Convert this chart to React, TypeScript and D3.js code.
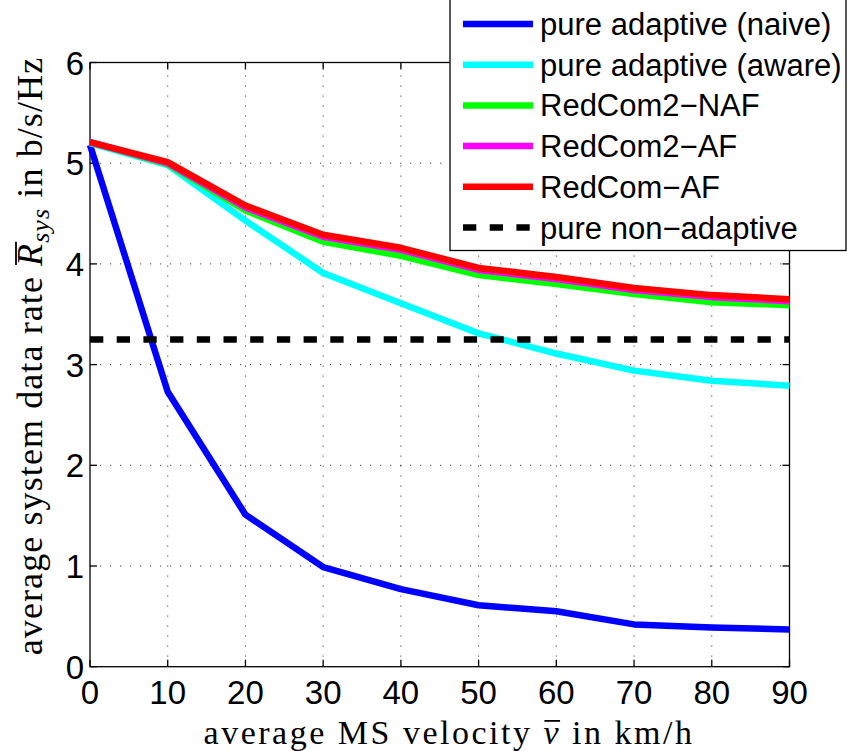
import React, { useLayoutEffect, useRef, useState } from "react";
import * as d3 from "d3";

const velocities = [0, 10, 20, 30, 40, 50, 60, 70, 80, 90];
const naive = [5.18, 2.73, 1.51, 0.99, 0.77, 0.61, 0.55, 0.42, 0.39, 0.37];
const aware = [5.2, 4.98, 4.43, 3.91, 3.61, 3.31, 3.11, 2.94, 2.84, 2.79];
const redCom2NAF = [5.21, 4.99, 4.53, 4.22, 4.08, 3.89, 3.8, 3.7, 3.62, 3.59];
const redCom2AF = [5.21, 5.0, 4.56, 4.27, 4.14, 3.94, 3.85, 3.74, 3.67, 3.63];
const redComAF = [5.21, 5.01, 4.58, 4.29, 4.16, 3.96, 3.87, 3.76, 3.69, 3.65];
const nonAdaptive = 3.25;

const xTicks = [0, 10, 20, 30, 40, 50, 60, 70, 80, 90];
const yTicks = [0, 1, 2, 3, 4, 5, 6];

const seriesNames = [
  "pure adaptive (naive)",
  "pure adaptive (aware)",
  "RedCom2\u2212NAF",
  "RedCom2\u2212AF",
  "RedCom\u2212AF",
  "pure non\u2212adaptive",
];
const seriesColors = ["#0000ff", "#00ffff", "#00ff00", "#ff00ff", "#ff0000", "#000000"];

const xLabelPre = "average MS velocity ";
const xLabelSym = "v";
const xLabelPost = " in km/h";
const yLabelPre = "average system data rate ";
const yLabelSym = "R";
const yLabelSub = "sys";
const yLabelPost = " in b/s/Hz";

const W = 847;
const H = 751;
const L = 90, R = 789.5, T = 62.5, B = 666.7;

type Bar = { x1: number; x2: number; y: number } | null;

export default function App() {
  const x = d3.scaleLinear().domain([0, 90]).range([L, R]);
  const y = d3.scaleLinear().domain([0, 6]).range([B, T]);
  const line = d3
    .line<number>()
    .x((_, i) => x(velocities[i]))
    .y((d) => y(d));

  const xLabRef = useRef<SVGTextElement>(null);
  const yLabRef = useRef<SVGTextElement>(null);
  const [xBar, setXBar] = useState<Bar>(null);
  const [yBar, setYBar] = useState<Bar>(null);

  useLayoutEffect(() => {
    const measure = (el: SVGTextElement | null, idx: number): Bar => {
      if (!el) return null;
      try {
        const e = el.getExtentOfChar(idx);
        return { x1: e.x + 1, x2: e.x + e.width + 1, y: e.y + e.height * 0.2 };
      } catch (err) {
        return null;
      }
    };
    setXBar(measure(xLabRef.current, xLabelPre.length));
    setYBar(measure(yLabRef.current, yLabelPre.length));
  }, []);

  const series = [naive, aware, redCom2NAF, redCom2AF, redComAF];
  const sans = "'Liberation Sans', Arial, Helvetica, sans-serif";
  const serif = "'Liberation Serif', 'Times New Roman', serif";
  const lw = 6.5;
  const tick = 7;

  const legX = 450, legR = 846, legT = 7, legB = 250.5;

  return (
    <svg
      width={W}
      height={H}
      style={{ position: "absolute", left: 0, top: 0, background: "#fff" }}
    >
      <rect x={0} y={0} width={W} height={H} fill="#fff" />
      {/* grid */}
      {xTicks.slice(1, -1).map((t) => (
        <line key={"gx" + t} x1={x(t)} x2={x(t)} y1={B} y2={T} stroke="#000" strokeWidth={1} strokeDasharray="1.2,8.8" strokeOpacity={0.75} />
      ))}
      {yTicks.slice(1, -1).map((t) => (
        <line key={"gy" + t} y1={y(t)} y2={y(t)} x1={L} x2={R} stroke="#000" strokeWidth={1} strokeDasharray="1.2,8.8" strokeOpacity={0.75} />
      ))}
      {/* axes box */}
      <rect x={L} y={T} width={R - L} height={B - T} fill="none" stroke="#000" strokeWidth={1.3} />
      {xTicks.map((t) => (
        <g key={"tx" + t}>
          <line x1={x(t)} x2={x(t)} y1={B} y2={B - tick} stroke="#000" strokeWidth={1.3} />
          <line x1={x(t)} x2={x(t)} y1={T} y2={T + tick} stroke="#000" strokeWidth={1.3} />
          <text x={x(t)} y={704} textAnchor="middle" fontFamily={sans} fontSize={33} fill="#000">
            {t}
          </text>
        </g>
      ))}
      {yTicks.map((t) => (
        <g key={"ty" + t}>
          <line x1={L} x2={L + tick} y1={y(t)} y2={y(t)} stroke="#000" strokeWidth={1.3} />
          <line x1={R} x2={R - tick} y1={y(t)} y2={y(t)} stroke="#000" strokeWidth={1.3} />
          <text x={84} y={y(t) + 12} textAnchor="end" fontFamily={sans} fontSize={33} fill="#000">
            {t}
          </text>
        </g>
      ))}
      {/* data */}
      {series.map((s, i) => (
        <path key={"s" + i} d={line(s) || ""} fill="none" stroke={seriesColors[i]} strokeWidth={lw} strokeLinejoin="round" />
      ))}
      <line x1={x(0)} x2={x(90)} y1={y(nonAdaptive)} y2={y(nonAdaptive)} stroke="#000" strokeWidth={lw} strokeDasharray="13.3,13.4" />
      {/* axis labels */}
      <text
        ref={xLabRef}
        x={449}
        y={743.5}
        textAnchor="middle"
        fontFamily={serif}
        fontSize={34}
        fill="#000"
        letterSpacing={2.5}
        style={{ whiteSpace: "pre" }}
      >
        {xLabelPre}
        <tspan fontStyle="italic">{xLabelSym}</tspan>
        {xLabelPost}
      </text>
      {xBar && <line x1={xBar.x1} x2={xBar.x2 - 2} y1={xBar.y} y2={xBar.y} stroke="#000" strokeWidth={1.8} />}
      <g transform="translate(42,356) rotate(-90)">
        <text
          ref={yLabRef}
          x={0}
          y={0}
          textAnchor="middle"
          fontFamily={serif}
          fontSize={36}
          fill="#000"
          letterSpacing={1.1}
          style={{ whiteSpace: "pre" }}
        >
          {yLabelPre}
          <tspan fontStyle="italic">{yLabelSym}</tspan>
          <tspan fontStyle="italic" fontSize={26} dy={7}>{yLabelSub}</tspan>
          <tspan dy={-7}>{yLabelPost}</tspan>
        </text>
        {yBar && <line x1={yBar.x1} x2={yBar.x2} y1={yBar.y - 2} y2={yBar.y - 2} stroke="#000" strokeWidth={1.8} />}
      </g>
      {/* legend */}
      <rect x={legX} y={legT - 20} width={legR - legX} height={legB - legT + 20} fill="#fff" stroke="#000" strokeWidth={1.3} />
      {seriesNames.map((name, i) => {
        const cy = 24 + i * 40.7;
        return (
          <g key={"l" + i}>
            <line x1={463} x2={533} y1={cy} y2={cy} stroke={seriesColors[i]} strokeWidth={lw} strokeDasharray={i === 5 ? "13.3,13.4" : undefined} />
            <text x={540} y={cy + 11} fontFamily={sans} fontSize={31} fill="#000">
              {name}
            </text>
          </g>
        );
      })}
    </svg>
  );
}
